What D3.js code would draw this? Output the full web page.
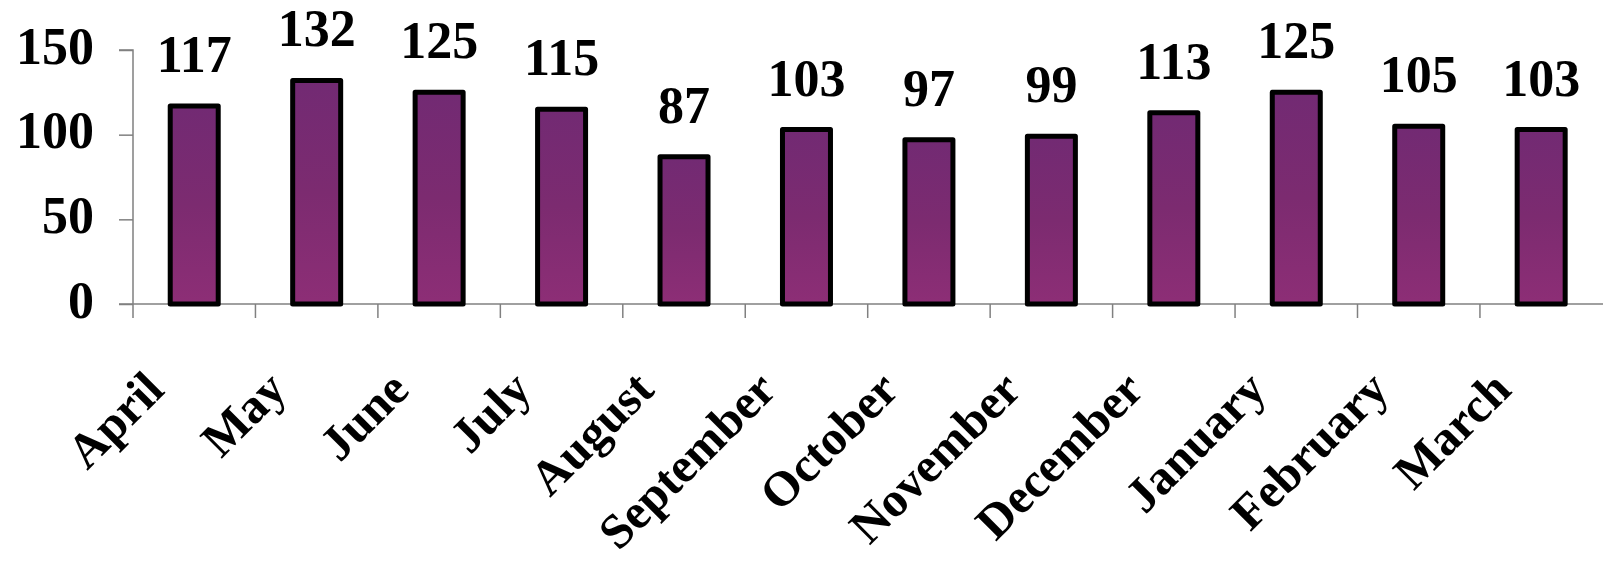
<!DOCTYPE html>
<html>
<head>
<meta charset="utf-8">
<script src="https://cdn.jsdelivr.net/npm/d3@7"></script>
<style>
  html, body { margin: 0; padding: 0; background: #fff; }
  svg { display: block; }
  text { font-family: "Liberation Serif", "Times New Roman", serif; font-weight: bold; fill: #000; }
</style>
</head>
<body>
<svg id="chart" width="1603" height="567"></svg>
<script>
const months = ["April","May","June","July","August","September","October","November","December","January","February","March"];
const values = [117,132,125,115,87,103,97,99,113,125,105,103];
const yTicks = [0,50,100,150];

const svg = d3.select("#chart");
const x0 = 133, x1 = 1602.4, yBase = 304, yTop = 50;

const x = d3.scaleBand().domain(months).range([x0, x1]).paddingInner(0).paddingOuter(0);
const y = d3.scaleLinear().domain([0,150]).range([yBase, yTop]);

const defs = svg.append("defs");
const grad = defs.append("linearGradient").attr("id","barGrad")
  .attr("x1","0").attr("y1","0").attr("x2","0").attr("y2","1");
grad.append("stop").attr("offset","0%").attr("stop-color","#722a73");
grad.append("stop").attr("offset","50%").attr("stop-color","#7c2b70");
grad.append("stop").attr("offset","100%").attr("stop-color","#8d2e76");

// Y axis
const yAxis = d3.axisLeft(y).tickValues(yTicks).tickSize(14).tickPadding(25).tickFormat(d3.format("d"));
const gy = svg.append("g").attr("transform", `translate(${x0},0)`).call(yAxis);
gy.select(".domain").attr("stroke","#808080").attr("stroke-width",1.5).attr("d", `M-14,${yTop}H0V${yBase+14}`);
gy.selectAll(".tick line").attr("stroke","#808080").attr("stroke-width",1.5);
gy.selectAll(".tick text").attr("font-size", 52).attr("dy","0.25em")
  .style("font-family","'Liberation Serif', serif").style("font-weight","bold").attr("fill","#000");

// X axis (ticks at category boundaries)
const boundaries = months.map(m => x(m)).concat([x1]);
const gx = svg.append("g");
gx.append("line").attr("x1", x0 - 14).attr("x2", 1603).attr("y1", yBase).attr("y2", yBase)
  .attr("stroke","#808080").attr("stroke-width",1.5);
gx.selectAll("line.tk").data(boundaries.slice(1, 12)).join("line").attr("class","tk")
  .attr("x1", d => d).attr("x2", d => d).attr("y1", yBase).attr("y2", yBase + 14)
  .attr("stroke","#808080").attr("stroke-width",1.5);

// Bars
const barW = 48;
svg.append("g").selectAll("rect").data(values).join("rect")
  .attr("x", (d,i) => x(months[i]) + x.bandwidth()/2 - barW/2)
  .attr("width", barW)
  .attr("y", d => y(d))
  .attr("height", d => yBase - y(d))
  .attr("fill","url(#barGrad)")
  .attr("stroke","#000").attr("stroke-width",5).attr("stroke-linejoin","round");

// Value labels
svg.append("g").selectAll("text").data(values).join("text")
  .attr("x", (d,i) => x(months[i]) + x.bandwidth()/2)
  .attr("y", d => y(d) - 34)
  .attr("text-anchor","middle")
  .attr("font-size", 52)
  .text(d => d);

// Category labels rotated
svg.append("g").selectAll("text").data(months).join("text")
  .attr("transform", d => `translate(${x(d) + x.bandwidth()/2 - 28},392) rotate(-45)`)
  .attr("text-anchor","end")
  .attr("font-size", 49)
  .text(d => d);
</script>
</body>
</html>
